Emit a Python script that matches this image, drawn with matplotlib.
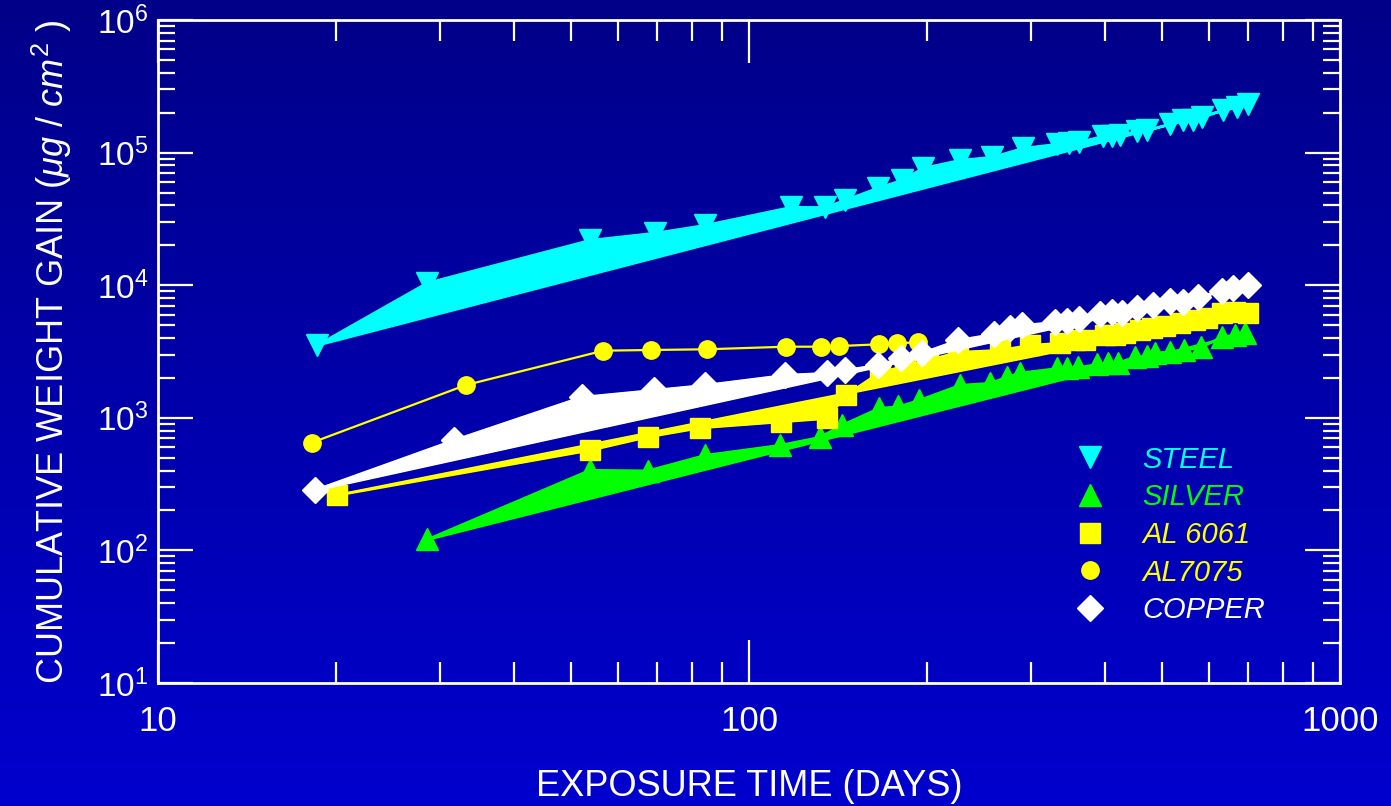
import numpy as np
import matplotlib
matplotlib.use('Agg')
import matplotlib.pyplot as plt
import matplotlib.ticker as ticker
from matplotlib.colors import LinearSegmentedColormap
from matplotlib.lines import Line2D

plt.rcParams['font.family'] = ['Liberation Sans', 'DejaVu Sans']
plt.rcParams['mathtext.fontset'] = 'custom'
plt.rcParams['mathtext.rm'] = 'Liberation Sans'
plt.rcParams['mathtext.it'] = 'Liberation Sans:italic'
plt.rcParams['mathtext.default'] = 'regular'

# exposure time (days) and cumulative weight gain (ug/cm2)
steel_days = [18.6, 28.5, 53.8, 69.3, 84.3, 118, 134.5, 145.4, 165, 181.5, 197, 227.5, 258,
              291, 332, 348, 362, 397, 411, 424, 453, 472, 516, 542, 564, 584, 634, 670, 698]
steel_gain = [3540, 10400, 21900, 24800, 28400, 38900, 38700, 43900, 54100, 62100, 76500,
              87900, 92700, 108300, 116100, 118000, 120200, 133400, 133400, 135800, 145500,
              148000, 164400, 176200, 176200, 185400, 209500, 220700, 232500]

silver_days = [28.5, 53.8, 67.4, 84.3, 112.8, 131.8, 143.5, 166.2, 178.9, 194.1, 227.5, 255.8,
               273, 287.5, 331.6, 345.2, 360.4, 387.4, 405, 421, 449.9, 471, 486.4, 515.6,
               544.5, 581, 631, 664.3, 690.6]
silver_gain = [121, 404, 400, 524, 623, 716, 882, 1186, 1217, 1362, 1767, 1830, 2031, 2188,
               2362, 2362, 2404, 2533, 2603, 2603, 2890, 2924, 3097, 3152, 3245, 3403, 4090,
               4210, 4337]

al6061_days = [20.1, 53.8, 67.4, 82.6, 113.1, 135.3, 145.8, 166.6, 183.6, 200.9, 225.8, 265.9,
               298.9, 335.9, 356, 370, 400.5, 416, 432.6, 458.8, 480.8, 505.7, 536, 568.5,
               595.6, 631.3, 664.3, 698.5]
al6061_gain = [262, 571, 720, 842, 935, 991, 1486, 2215, 2458, 2729, 3135, 3246, 3540, 3665,
               3862, 3862, 4210, 4210, 4360, 4592, 4756, 4925, 5188, 5464, 5657, 6170, 6281,
               6170]

al7075_days = [18.2, 33.2, 56.7, 68.3, 84.8, 115.5, 132.2, 142.2, 166.2, 177.8, 193]
al7075_gain = [649, 1767, 3208, 3246, 3286, 3437, 3437, 3477, 3583, 3646, 3710]

copper_days = [18.4, 31.7, 52.1, 69.1, 84.3, 115, 135.3, 145.4, 165.5, 180.7, 196, 226, 259.8,
               276.5, 289.3, 329.5, 345.6, 362.2, 392.6, 410.9, 427.2, 452.9, 483.1, 515.6,
               543, 575.5, 631, 659.9, 699.6]
copper_gain = [285, 680, 1435, 1621, 1767, 2102, 2177, 2293, 2502, 2825, 3081, 3862, 4285,
               4756, 4985, 5278, 5343, 5590, 6095, 6281, 6203, 6730, 7050, 7560, 7465, 8150,
               8995, 9520, 9980]

labels = ['STEEL', 'SILVER', 'AL 6061', 'AL7075', 'COPPER']
colors = ['#00FFFF', '#00FF00', '#FFFF00', '#FFFF00', '#FFFFFF']
markers = ['v', '^', 's', 'o', 'D']
msizes = [16, 16, 14, 12.5, 13]


def power_fit(x, y):
	"""straight line in log-log space from the first to the last point"""
	lx, ly = np.log10(x), np.log10(y)
	slope = (ly[-1] - ly[0]) / (lx[-1] - lx[0])
	return 10 ** (ly[0] + slope * (lx - lx[0]))


fig = plt.figure(figsize=(13.91, 8.06), dpi=100)

# blue gradient background
bg = fig.add_axes([0, 0, 1, 1], zorder=-10)
cmap = LinearSegmentedColormap.from_list('bg', ['#0000CE', '#000088'])
bg.imshow(np.linspace(0, 1, 256).reshape(-1, 1), aspect='auto', cmap=cmap,
		  origin='lower', extent=[0, 1, 0, 1])
bg.axis('off')

ax = fig.add_axes([0.1136, 0.1526, 0.8497, 0.8226])
ax.set_zorder(1)
ax.set_facecolor('none')
ax.set_xscale('log')
ax.set_yscale('log')
ax.set_xlim(10, 1000)
ax.set_ylim(10, 1e6)

banded = [(steel_days, steel_gain, 0), (silver_days, silver_gain, 1),
		  (al6061_days, al6061_gain, 2), (copper_days, copper_gain, 4)]
zo = {0: 3, 1: 4, 2: 5, 4: 7}
for d, g, k in banded:
	d = np.array(d, dtype=float)
	g = np.array(g, dtype=float)
	fit = power_fit(d, g)
	ax.fill_between(d, g, fit, color=colors[k], lw=1.5, zorder=zo[k])
	ax.plot(d, fit, color=colors[k], lw=1.5, zorder=zo[k])
	ax.plot(d, g, color=colors[k], lw=1.5, marker=markers[k], ms=msizes[k],
			mec=colors[k], ls='-', zorder=zo[k])

# AL7075: thin line only
ax.plot(al7075_days, al7075_gain, color=colors[3], lw=1.6, marker=markers[3], ms=msizes[3],
		zorder=6)

# axes styling
for s in ax.spines.values():
	s.set_color('white')
	s.set_linewidth(2)
ax.tick_params(which='both', direction='in', top=True, right=True, colors='white', width=1.6)
ax.tick_params(axis='x', which='major', length=31, pad=16, labelsize=25)
ax.tick_params(axis='x', which='minor', length=15)
ax.tick_params(axis='y', which='major', length=25, pad=7, labelsize=24)
ax.tick_params(axis='y', which='minor', length=12)
ax.xaxis.set_major_formatter(ticker.FuncFormatter(lambda v, p: '%d' % v))
ax.xaxis.set_minor_formatter(ticker.NullFormatter())
ax.yaxis.set_minor_locator(ticker.LogLocator(base=10, subs=np.arange(2, 10), numticks=20))
ax.yaxis.set_minor_formatter(ticker.NullFormatter())

ax.set_xlabel('EXPOSURE TIME (DAYS)', color='white', fontsize=26, labelpad=22)
ax.set_ylabel(r'CUMULATIVE WEIGHT GAIN ($\mathit{\mu g}$ / $\mathit{cm}^{\mathrm{2}}$ )',
			  color='white', fontsize=26, labelpad=16)

# legend: markers only, coloured italic text
handles = [Line2D([], [], ls='none', marker=markers[k], ms=msizes[k], color=colors[k])
		   for k in range(5)]
leg = ax.legend(handles, labels, loc='upper left', bbox_to_anchor=(0.776, 0.358),
				frameon=False, borderpad=0, borderaxespad=0, handlelength=1.0,
				handletextpad=1.3, labelspacing=0.33,
				prop={'size': 21, 'style': 'italic'})
for t, c in zip(leg.get_texts(), colors):
	t.set_color(c)

fig.savefig('out.png', dpi=100)
